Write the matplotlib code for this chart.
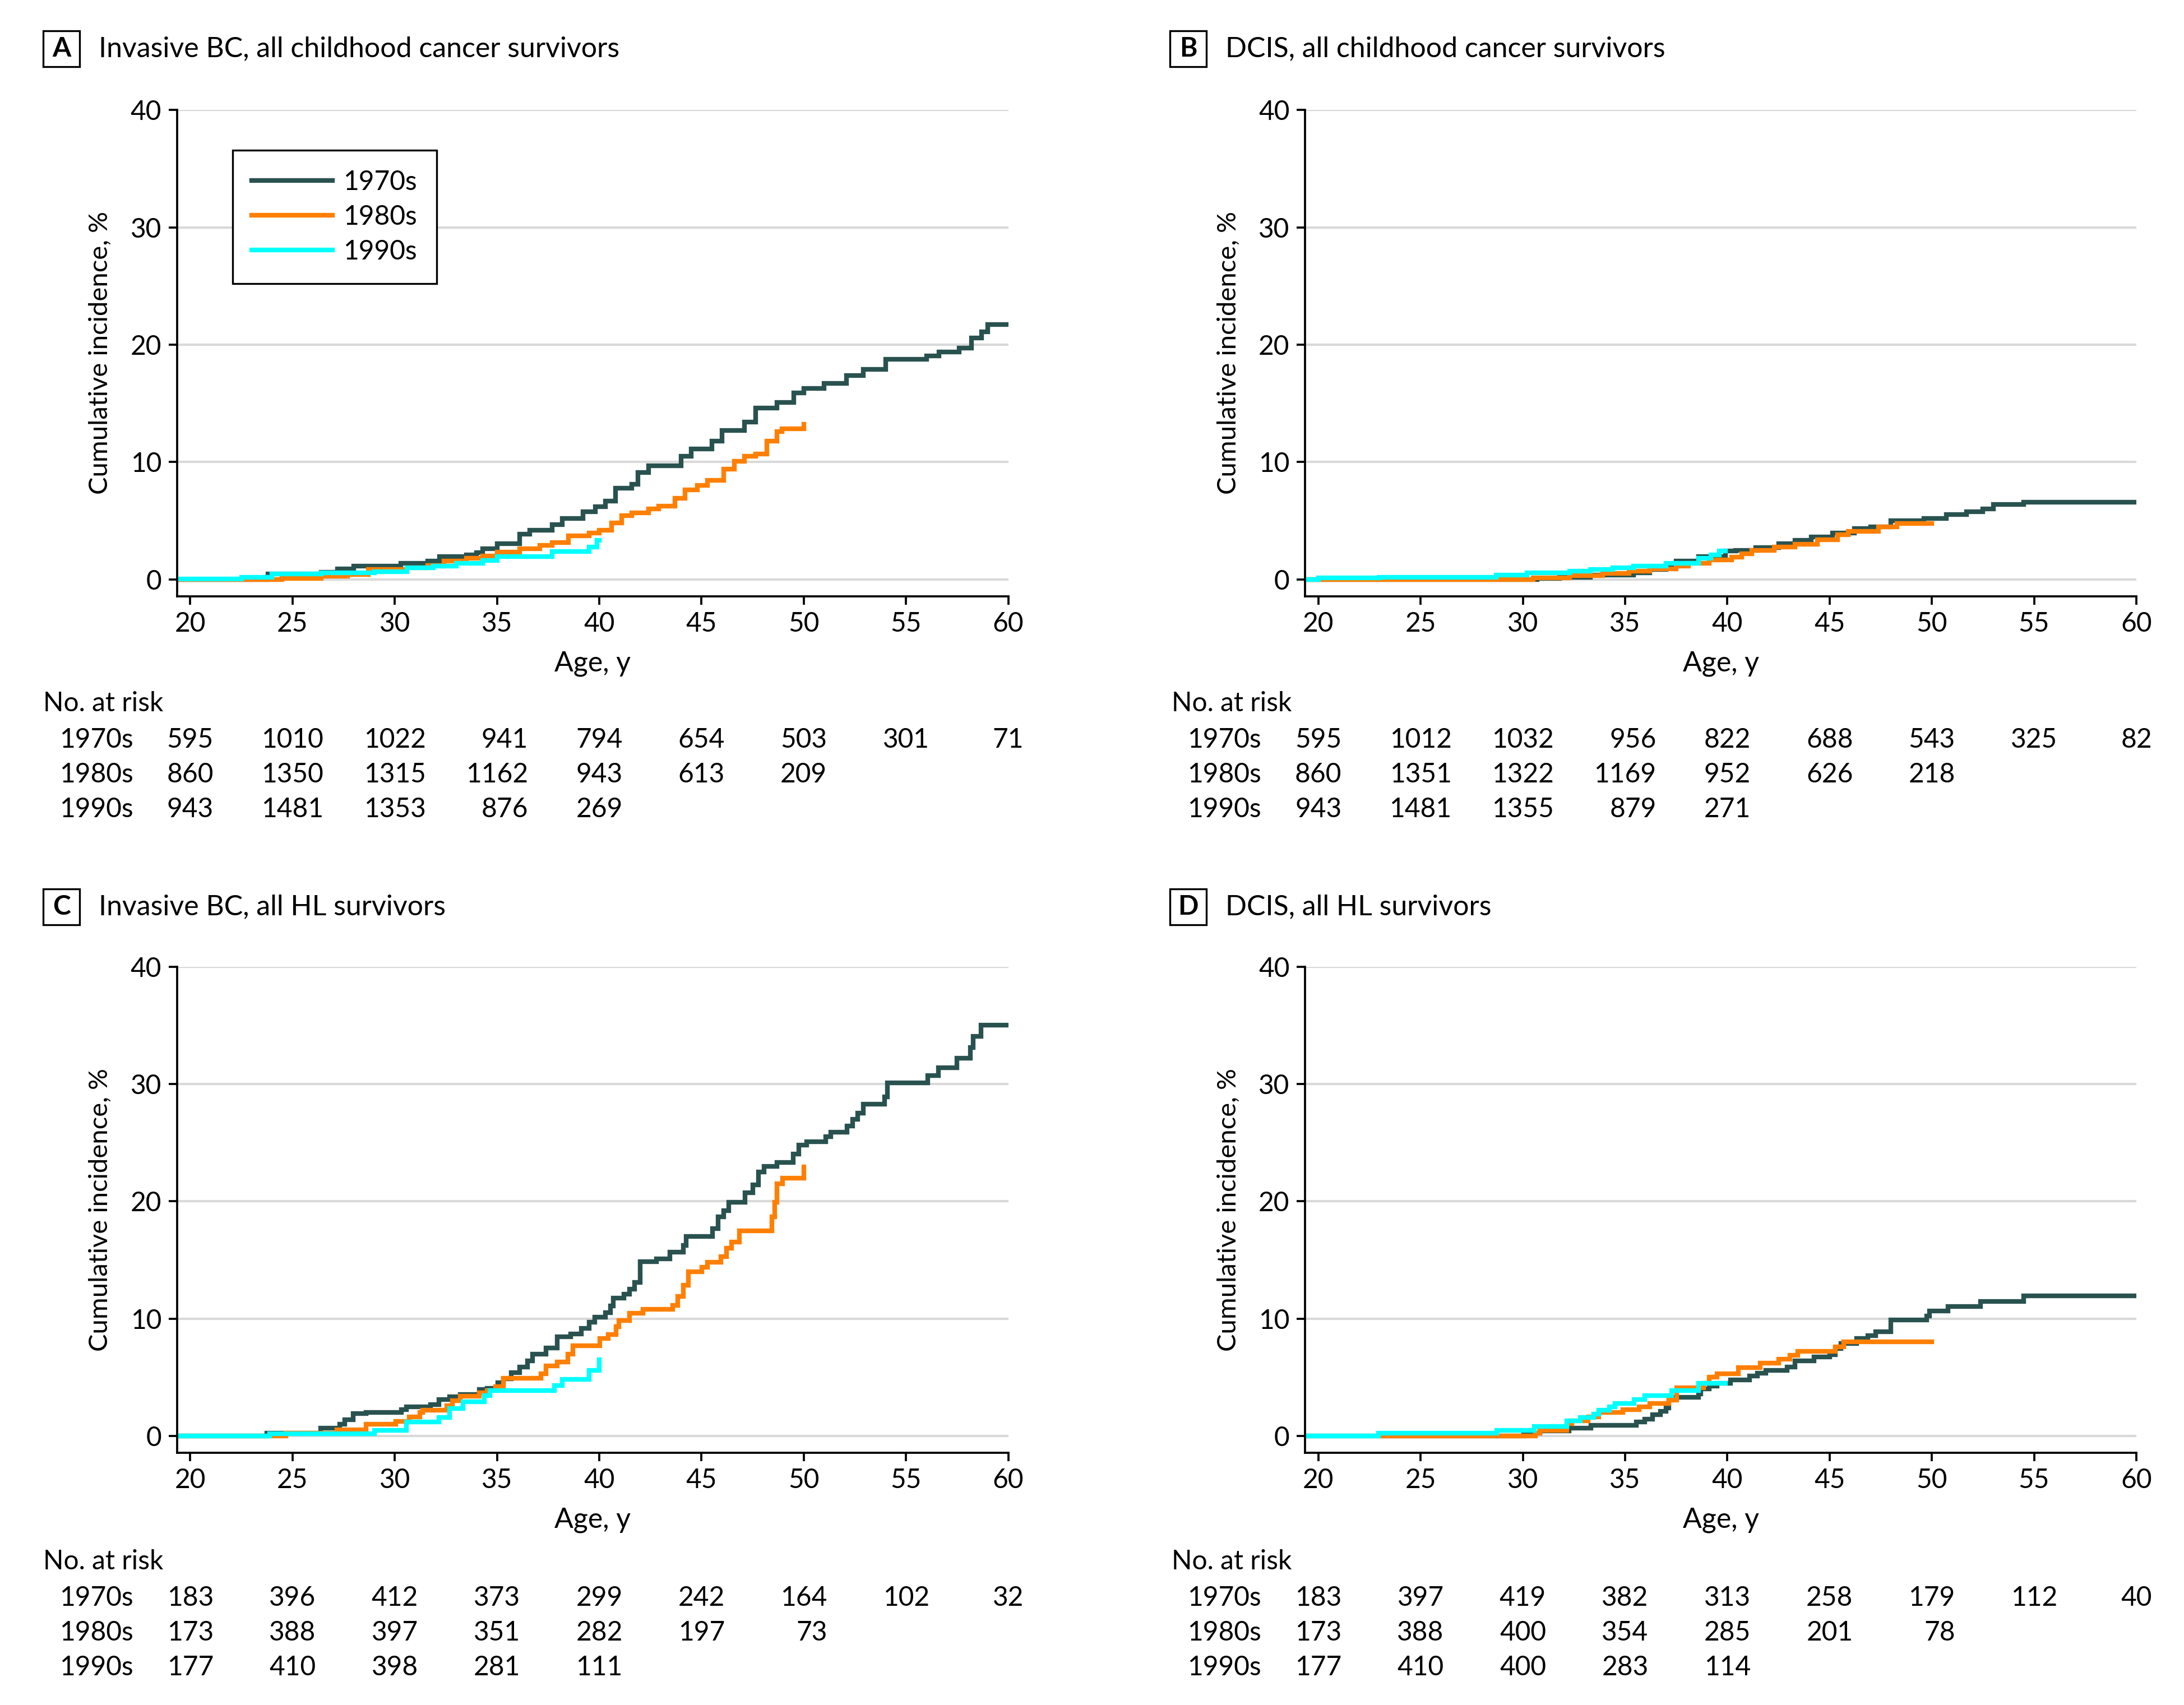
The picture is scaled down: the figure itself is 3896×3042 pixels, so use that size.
import numpy as np
import matplotlib
matplotlib.use('Agg')
import matplotlib.pyplot as plt
from matplotlib.patches import Rectangle
from matplotlib.transforms import blended_transform_factory

plt.rcParams['font.family'] = ['Lato', 'DejaVu Sans']

#- DATA
groups = ['1970s', '1980s', '1990s']
colors = ['#29524f', '#ff7f00', '#00ffff']
risk_ages = [20, 25, 30, 35, 40, 45, 50, 55, 60]

# panel A : invasive BC, all childhood cancer survivors
a70_x = [19.3, 23.8, 26.4, 27.2, 28.0, 30.3, 31.6, 32.2, 33.5, 34.0, 34.3, 35.0, 36.1, 36.6, 37.7,
         38.2, 39.2, 39.8, 40.3, 40.8, 41.6, 41.9, 42.4, 44.0, 44.5, 45.5, 46.0, 47.1, 47.65, 48.7,
         49.5, 50.0, 51.0, 52.1, 52.9, 54.0, 56.0, 56.6, 57.6, 58.2, 58.7, 59.0, 60.0]
a70_y = [0.0, 0.45, 0.6, 0.9, 1.15, 1.4, 1.55, 1.95, 2.1, 2.3, 2.6, 3.05, 3.85, 4.2, 4.65,
         5.2, 5.75, 6.2, 6.7, 7.8, 8.1, 9.1, 9.7, 10.5, 11.1, 11.8, 12.7, 13.4, 14.6, 15.1,
         15.9, 16.3, 16.7, 17.4, 17.9, 18.75, 19.05, 19.4, 19.7, 20.6, 21.1, 21.7, 21.7]
a80_x = [19.3, 24.5, 26.4, 27.7, 28.7, 30.6, 31.6, 32.4, 33.5, 34.3, 35.0, 36.1, 37.1, 37.7, 38.5,
         39.5, 40.0, 40.6, 41.1, 41.6, 42.4, 42.9, 43.7, 44.2, 44.8, 45.3, 46.1, 46.6, 47.1, 47.65,
         48.2, 48.7, 48.95, 50.0]
a80_y = [0.0, 0.1, 0.27, 0.43, 0.83, 1.0, 1.2, 1.55, 1.8, 2.0, 2.35, 2.6, 2.9, 3.15, 3.7,
         3.95, 4.2, 4.8, 5.45, 5.7, 6.0, 6.25, 6.9, 7.65, 8.0, 8.45, 9.4, 10.05, 10.5, 10.7,
         11.8, 12.6, 12.85, 13.2]
a90_x = [19.3, 22.5, 24.0, 26.4, 29.0, 30.6, 31.9, 33.0, 34.3, 35.0, 37.7, 39.5, 39.9, 40.0]
a90_y = [0.05, 0.2, 0.45, 0.55, 0.65, 1.0, 1.15, 1.4, 1.6, 1.95, 2.4, 2.75, 3.35, 3.35]

# panel B : DCIS, all childhood cancer survivors
b70_x = [19.3, 30.7, 31.8, 33.3, 35.4, 36.2, 37.0, 37.5, 38.6, 39.9, 40.4, 41.4, 42.5, 43.3, 44.1,
         45.15, 46.2, 47.0, 48.0, 49.6, 50.7, 51.7, 52.5, 53.0, 54.5, 60.0]
b70_y = [0.0, 0.08, 0.2, 0.37, 0.56, 0.85, 1.3, 1.55, 1.95, 2.45, 2.5, 2.7, 3.05, 3.35, 3.6,
         3.95, 4.35, 4.5, 5.0, 5.2, 5.55, 5.75, 6.0, 6.4, 6.6, 6.6]
b80_x = [19.3, 30.5, 32.3, 33.9, 35.2, 36.2, 37.5, 38.1, 39.1, 40.2, 40.7, 41.2, 42.3, 43.3, 44.4,
         45.4, 45.9, 47.4, 48.3, 50.0]
b80_y = [0.0, 0.13, 0.32, 0.52, 0.7, 0.88, 1.15, 1.4, 1.65, 1.9, 2.2, 2.5, 2.75, 3.0, 3.4,
         3.8, 4.1, 4.5, 4.75, 4.75]
b90_x = [19.3, 20.0, 23.0, 28.7, 30.2, 32.3, 33.3, 34.4, 35.4, 37.0, 38.6, 39.2, 39.6, 39.9]
b90_y = [0.0, 0.12, 0.2, 0.37, 0.55, 0.72, 0.85, 1.0, 1.15, 1.4, 1.8, 2.1, 2.45, 2.45]

# panel C : invasive BC, all HL survivors
c70_x = [19.3, 23.76, 26.38, 27.30, 27.56, 27.96, 28.61, 30.32, 30.58, 31.76, 32.16, 32.68, 33.21,
         34.13, 34.52, 35.05, 35.31, 35.70, 36.10, 36.49, 36.75, 37.41, 37.94, 38.59, 39.12, 39.51,
         39.77, 40.30, 40.56, 40.69, 41.22, 41.48, 41.74, 42.01, 42.79, 43.45, 44.11, 44.24, 45.55,
         45.81, 46.08, 46.34, 47.13, 47.52, 47.78, 48.05, 48.70, 49.49, 49.75, 50.15, 51.07, 51.33,
         52.12, 52.38, 52.64, 52.90, 53.95, 54.09, 56.06, 56.58, 57.50, 58.16, 58.29, 58.68, 60.0]
c70_y = [0.0, 0.25, 0.7, 1.0, 1.4, 1.9, 2.0, 2.25, 2.5, 2.7, 3.1, 3.35, 3.55,
         3.95, 4.05, 4.55, 4.9, 5.4, 5.9, 6.4, 7.0, 7.5, 8.45, 8.7, 9.2, 9.7,
         10.15, 10.5, 11.1, 11.75, 12.1, 12.5, 13.1, 14.85, 15.1, 15.65, 16.25, 17.0, 17.7,
         18.7, 19.2, 19.9, 20.75, 21.4, 22.5, 23.0, 23.3, 24.05, 24.8, 25.1, 25.5, 25.9,
         26.4, 27.0, 27.5, 28.3, 28.9, 30.1, 30.7, 31.4, 32.2, 33.1, 34.05, 35.0, 35.0]
c80_x = [19.3, 24.67, 27.17, 28.61, 30.06, 30.71, 31.24, 31.37, 32.55, 32.82, 33.21, 34.13, 34.52,
         34.92, 35.31, 37.15, 37.41, 37.94, 38.46, 38.72, 40.04, 40.43, 40.82, 40.96, 41.48, 42.14,
         43.58, 43.84, 44.11, 44.37, 45.03, 45.29, 45.95, 46.21, 46.47, 46.86, 48.44, 48.57, 48.70,
         48.96, 50.0]
c80_y = [0.0, 0.25, 0.55, 1.0, 1.25, 1.65, 2.0, 2.2, 2.6, 3.0, 3.4, 3.7, 3.9,
         4.2, 4.95, 5.3, 6.0, 6.3, 7.0, 7.7, 8.3, 8.65, 9.3, 9.85, 10.45, 10.8,
         11.15, 11.9, 12.85, 14.0, 14.4, 14.8, 15.3, 16.0, 16.55, 17.5, 18.7, 19.9, 21.5,
         22.0, 22.95]
c90_x = [19.3, 23.89, 29.01, 30.58, 32.16, 32.68, 33.34, 34.39, 34.65, 37.80, 38.20, 39.51, 40.0]
c90_y = [0.0, 0.22, 0.5, 1.2, 1.6, 2.35, 2.9, 3.45, 3.9, 4.3, 4.85, 5.6, 6.5]

# panel D : DCIS, all HL survivors
d70_x = [19.3, 30.04, 30.83, 32.27, 33.32, 35.56, 35.95, 36.35, 36.74, 37.0, 37.14, 38.58, 38.71,
         39.11, 39.50, 40.16, 41.08, 41.47, 41.87, 42.92, 43.31, 44.23, 45.02, 45.28, 45.55, 46.33,
         46.86, 47.25, 47.99, 49.75, 49.88, 50.80, 52.38, 54.48, 60.0]
d70_y = [0.0, 0.27, 0.43, 0.67, 0.9, 1.2, 1.45, 1.8, 2.1, 2.4, 3.3, 3.6, 4.0,
         4.25, 4.5, 4.8, 5.1, 5.35, 5.6, 5.9, 6.4, 6.75, 6.95, 7.45, 7.9, 8.3,
         8.55, 8.9, 9.9, 10.25, 10.65, 11.05, 11.45, 11.95, 11.95]
d80_x = [23.07, 30.62, 30.83, 32.14, 32.40, 33.19, 33.72, 34.90, 35.69, 36.22, 37.14, 37.53, 38.84,
         39.11, 39.50, 40.55, 41.60, 42.52, 43.05, 43.44, 45.28, 45.68, 50.0]
d80_y = [0.0, 0.27, 0.48, 1.07, 1.28, 1.63, 2.0, 2.27, 2.5, 2.78, 3.06, 4.1, 4.5,
         5.0, 5.3, 5.85, 6.2, 6.55, 6.9, 7.2, 7.6, 8.05, 8.05]
d90_x = [19.3, 22.94, 28.73, 30.57, 32.14, 32.80, 33.46, 33.72, 34.24, 34.51, 35.43, 35.95, 37.27,
         38.58, 39.90]
d90_y = [0.0, 0.27, 0.5, 0.8, 1.3, 1.6, 1.85, 2.2, 2.5, 2.78, 3.1, 3.45, 3.9, 4.5, 4.5]

# numbers at risk
a_risk = [[595, 1010, 1022, 941, 794, 654, 503, 301, 71],
          [860, 1350, 1315, 1162, 943, 613, 209],
          [943, 1481, 1353, 876, 269]]
b_risk = [[595, 1012, 1032, 956, 822, 688, 543, 325, 82],
          [860, 1351, 1322, 1169, 952, 626, 218],
          [943, 1481, 1355, 879, 271]]
c_risk = [[183, 396, 412, 373, 299, 242, 164, 102, 32],
          [173, 388, 397, 351, 282, 197, 73],
          [177, 410, 398, 281, 111]]
d_risk = [[183, 397, 419, 382, 313, 258, 179, 112, 40],
          [173, 388, 400, 354, 285, 201, 78],
          [177, 410, 400, 283, 114]]

#- FIGURE (layout in pixels of the 3896 x 3042 image)
W, H, DPI = 3896, 3042, 300
fig = plt.figure(figsize=(W / DPI, H / DPI), dpi=DPI)
FS = 11.5

AX_W, AX_H = 1483.0, 867.3
panels = [
    dict(letter='A', title='Invasive BC, all childhood cancer survivors', left=315.6, top=196.3,
         curves=[(a70_x, a70_y), (a80_x, a80_y), (a90_x, a90_y)], risk=a_risk,
         box_x=77, title_y=87, table_y=[1255, 1320, 1382, 1444], legend=True),
    dict(letter='B', title='DCIS, all childhood cancer survivors', left=2328.0, top=196.3,
         curves=[(b70_x, b70_y), (b80_x, b80_y), (b90_x, b90_y)], risk=b_risk,
         box_x=2087, title_y=87, table_y=[1255, 1320, 1382, 1444], legend=False),
    dict(letter='C', title='Invasive BC, all HL survivors', left=315.6, top=1724.6,
         curves=[(c70_x, c70_y), (c80_x, c80_y), (c90_x, c90_y)], risk=c_risk,
         box_x=77, title_y=1618, table_y=[2786, 2851, 2913, 2975], legend=False),
    dict(letter='D', title='DCIS, all HL survivors', left=2328.0, top=1724.6,
         curves=[(d70_x, d70_y), (d80_x, d80_y), (d90_x, d90_y)], risk=d_risk,
         box_x=2087, title_y=1618, table_y=[2786, 2851, 2913, 2975], legend=False),
]

columns_all = []
for p in panels:
    ax = fig.add_axes([p['left'] / W, 1 - (p['top'] + AX_H) / H, AX_W / W, AX_H / H])
    for (x, y), c, g in zip(p['curves'], colors, groups):
        ax.step(x, y, where='post', color=c, lw=2.0, label=g, solid_joinstyle='miter')
    ax.set_xlim(19.35, 60)
    ax.set_ylim(-1.42, 40)
    ax.set_xticks(risk_ages)
    ax.set_yticks([0, 10, 20, 30, 40])
    ax.yaxis.grid(True, color='#d9d9d9', lw=1.0)
    ax.set_axisbelow(True)
    for s in ['top', 'right']:
        ax.spines[s].set_visible(False)
    for s in ['left', 'bottom']:
        ax.spines[s].set_linewidth(0.9)
    ax.tick_params(direction='out', length=3.6, width=0.9, labelsize=FS, pad=3)
    ax.set_xlabel('Age, y', fontsize=FS + 0.5)
    ax.xaxis.set_label_coords(0.5, -0.112)
    ax.set_ylabel('Cumulative incidence, %', fontsize=FS - 0.2)
    ax.yaxis.set_label_coords(-0.078, 0.5)

    if p['legend']:
        leg = ax.legend(loc='upper left', bbox_to_anchor=(0.067, 0.917), borderaxespad=0,
                        fancybox=False, edgecolor='black', framealpha=1, fontsize=FS,
                        handlelength=3.0, borderpad=0.72, labelspacing=0.38, handletextpad=0.4)
        leg.get_frame().set_linewidth(0.8)

    # panel letter box and title
    bx, by = p['box_x'], p['title_y'] - 32
    fig.add_artist(Rectangle((bx / W, 1 - (by + 64) / H), 65 / W, 64 / H,
                             transform=fig.transFigure, fill=False, ec='black', lw=0.8))
    fig.text((bx + 32.5) / W, 1 - p['title_y'] / H, p['letter'], ha='center', va='center',
             fontsize=FS, fontweight='bold')
    fig.text((bx + 99) / W, 1 - p['title_y'] / H, p['title'], ha='left', va='center',
             fontsize=FS + 0.5)

    # number at risk table
    tr = blended_transform_factory(ax.transData, fig.transFigure)
    ty = p['table_y']
    ax.text(12.82, 1 - ty[0] / H, 'No. at risk', transform=tr, ha='left', va='center', fontsize=FS)
    cols = [[] for _ in risk_ages]
    for g, vals, yy in zip(groups, p['risk'], ty[1:]):
        ax.text(13.6, 1 - yy / H, g, transform=tr, ha='left', va='center', fontsize=FS)
        for i, v in enumerate(vals):
            t = ax.text(risk_ages[i], 1 - yy / H, str(v), transform=tr, ha='center',
                        va='center', fontsize=FS)
            cols[i].append(t)
    columns_all.append((ax, cols))

# right-align each column of the table on its widest entry (centered on the tick)
fig.canvas.draw()
rend = fig.canvas.get_renderer()
for ax, cols in columns_all:
    for col in cols:
        if not col:
            continue
        xr = max(t.get_window_extent(rend).x1 for t in col)
        xd = ax.transData.inverted().transform((xr, 0))[0]
        for t in col:
            t.set_ha('right')
            t.set_x(xd)

plt.savefig('out.png', dpi=DPI)
